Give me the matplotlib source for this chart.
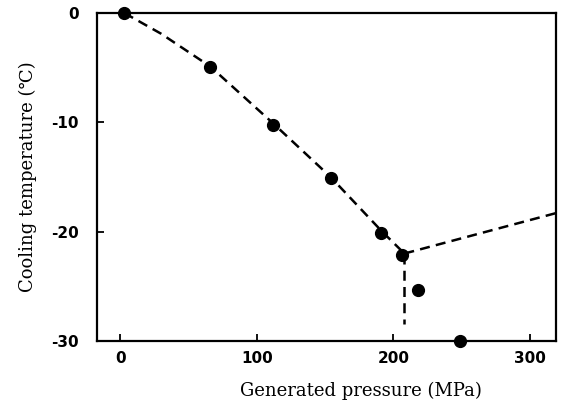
import matplotlib
matplotlib.use('Agg')
import matplotlib.pyplot as plt

# measured points (pressure MPa, cooling temperature C)
pressure = [3, 66, 112, 154, 191, 206, 218, 249]
temperature = [0, -4.9, -10.2, -15.1, -20.1, -22.1, -25.3, -30.0]

# dashed guide lines
curve_x = [3, 30, 66, 112, 154, 191, 208]
curve_y = [0, -1.9, -4.9, -10.1, -15.0, -19.9, -22.0]
branch_x = [208, 319]
branch_y = [-22.0, -18.3]
vert_x = [208, 208]
vert_y = [-22.0, -28.4]

xticks = [0, 100, 200, 300]
yticks = [0, -10, -20, -30]

fig = plt.figure(figsize=(5.63, 4.03), dpi=100)
ax = fig.add_axes([0.1723, 0.1538, 0.8153, 0.8139])

dash = dict(color='black', linestyle=(0, (4, 2.5)), linewidth=1.8, zorder=2)
ax.plot(curve_x, curve_y, **dash)
ax.plot(branch_x, branch_y, **dash)
ax.plot(vert_x, vert_y, **dash)
ax.plot(pressure, temperature, 'o', color='black', markersize=8.5, zorder=3, clip_on=False)

ax.set_xlim(-17, 319)
ax.set_ylim(-30, 0)
ax.set_xticks(xticks)
ax.set_yticks(yticks)
ax.set_xticklabels([str(v) for v in xticks], fontsize=11, fontweight='bold', family='DejaVu Sans')
ax.set_yticklabels([str(v) for v in yticks], fontsize=11, fontweight='bold', family='DejaVu Sans')
ax.tick_params(direction='in', length=5, width=1.3)
ax.tick_params(axis='x', pad=7)
ax.tick_params(axis='y', pad=13)
for s in ax.spines.values():
    s.set_linewidth(1.6)

ax.set_xlabel('Generated pressure (MPa)', fontsize=13, family='DejaVu Serif')
ax.xaxis.set_label_coords(0.575, -0.125)
ax.set_ylabel('Cooling temperature (\u2103)', fontsize=13, family=['DejaVu Serif', 'DejaVu Sans'], labelpad=10)

fig.savefig('out.png', dpi=100)
